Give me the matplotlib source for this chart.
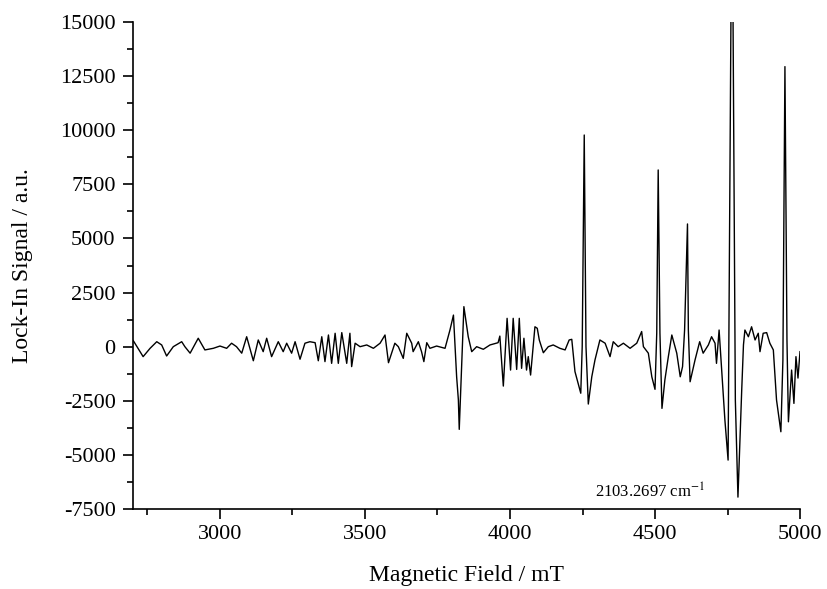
import matplotlib
matplotlib.use("Agg")
import matplotlib.pyplot as plt
from matplotlib.ticker import MultipleLocator

# magnetic field (mT) and lock-in signal (a.u.)
field = [2701, 2735, 2759, 2782, 2799, 2816, 2839, 2868, 2879, 2897,
         2925, 2948, 2977, 3000, 3023, 3040, 3057, 3075, 3092, 3115,
         3132, 3149, 3161, 3178, 3201, 3218, 3230, 3247, 3259, 3276,
         3293, 3310, 3328, 3339, 3351, 3362, 3374, 3385, 3397, 3408,
         3420, 3437, 3448, 3454, 3466, 3483, 3506, 3529, 3552, 3569,
         3581, 3603, 3615, 3632, 3644, 3661, 3666, 3684, 3695, 3703,
         3713, 3724, 3747, 3776, 3793, 3805, 3816, 3822, 3825, 3833,
         3841, 3856, 3868, 3885, 3908, 3931, 3959, 3965, 3977, 3990,
         4002, 4011, 4023, 4032, 4040, 4048, 4057, 4063, 4071, 4086,
         4094, 4101, 4115, 4132, 4149, 4172, 4190, 4204, 4213, 4224,
         4244, 4249, 4256, 4262, 4270, 4282, 4293, 4310, 4328, 4345,
         4356, 4373, 4391, 4414, 4437, 4454, 4460, 4477, 4489, 4500,
         4506, 4511, 4517, 4524, 4534, 4546, 4558, 4575, 4587, 4595,
         4602, 4612, 4615, 4621, 4638, 4654, 4666, 4684, 4695, 4707,
         4712, 4721, 4729, 4741, 4752, 4762, 4769, 4777, 4786, 4799,
         4805, 4810, 4822, 4833, 4845, 4856, 4862, 4873, 4885, 4896,
         4908, 4919, 4934, 4941, 4948, 4955, 4960, 4971, 4979, 4986,
         4993, 5000]
signal = [280, -460, -75, 230, 80, -430, 0, 230, 0, -300,
          390, -150, -75, 30, -75, 160, 0, -300, 460, -650,
          310, -230, 390, -460, 230, -230, 160, -300, 230, -580,
          160, 230, 185, -650, 460, -690, 540, -770, 620, -770,
          650, -770, 620, -920, 160, 0, 80, -75, 160, 540,
          -740, 160, 0, -540, 620, 160, -230, 230, -230, -690,
          185, -75, 30, -75, 770, 1460, -1390, -2460, -3820, -920,
          1850, 460, -230, 0, -120, 80, 185, 490, -1820, 1310,
          -1080, 1310, -1050, 1310, -1000, 390, -1080, -460, -1310, 920,
          850, 310, -280, 0, 80, -75, -150, 310, 340, -1150,
          -2150, 0, 9780, 0, -2650, -1390, -615, 310, 160, -460,
          230, 0, 160, -75, 160, 700, 0, -300, -1390, -1970,
          630, 8165, 630, -2850, -1540, -460, 540, -300, -1390, -920,
          770, 5670, 770, -1620, -615, 230, -300, 80, 460, 160,
          -770, 770, -920, -3390, -5240, 15500, 15300, -2460, -6950, -2000,
          80, 770, 460, 920, 310, 620, -230, 620, 650, 160,
          -150, -2460, -3930, -615, 12940, 310, -3470, -1080, -2620, -460,
          -1450, -230]

x_ticks = [3000, 3500, 4000, 4500, 5000]
y_ticks = [-7500, -5000, -2500, 0, 2500, 5000, 7500, 10000, 12500, 15000]
note_text = "2103.2697 cm$^{\\mathrm{-1}}$"
note_pos = (4483, -6713)

plt.rcParams['font.family'] = ['Liberation Serif', 'DejaVu Serif']
plt.rcParams['mathtext.fontset'] = 'stix'
plt.rcParams['axes.unicode_minus'] = False

fig = plt.figure(figsize=(8.28, 5.89), dpi=100)
ax = fig.add_axes([0.1606, 0.1358, 0.8056, 0.8268])

ax.plot(field, signal, color='black', lw=1.0)

ax.set_xlim(2700, 5000)
ax.set_ylim(-7500, 15000)
ax.set_xticks(x_ticks)
ax.set_yticks(y_ticks)
ax.xaxis.set_minor_locator(MultipleLocator(250))
ax.yaxis.set_minor_locator(MultipleLocator(1250))

ax.spines['top'].set_visible(False)
ax.spines['right'].set_visible(False)
for s in ['left', 'bottom']:
    ax.spines[s].set_linewidth(1.2)

ax.tick_params(which='major', direction='out', length=7.5, width=1.2, labelsize=16)
ax.tick_params(which='minor', direction='out', length=4, width=1.2)
ax.tick_params(axis='x', pad=4)
ax.tick_params(axis='y', pad=5)

ax.set_xlabel("Magnetic Field / mT", fontsize=17)
ax.set_ylabel("Lock-In Signal / a.u.", fontsize=17)
ax.xaxis.set_label_coords(0.5, -0.115)
ax.yaxis.set_label_coords(-0.15, 0.5)

ax.text(note_pos[0], note_pos[1], note_text, fontsize=12, ha='center', va='center')

fig.savefig("out.png", dpi=100)
